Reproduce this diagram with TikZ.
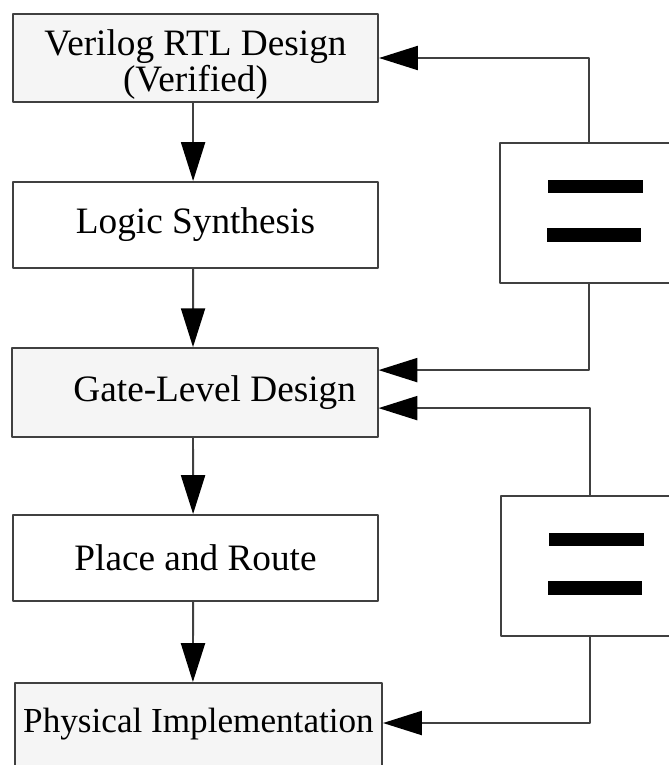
\documentclass[tikz,border=0pt]{standalone}
\usepackage{fontspec}
\setmainfont{Liberation Serif}
\usetikzlibrary{arrows.meta}

\begin{document}
\begin{tikzpicture}[x=0.025cm, y=-0.025cm, line join=round,
	font=\fontsize{26.5}{23}\selectfont,
	>={Triangle[length=0.97cm,width=0.6cm,color=black]},
	flowbox/.style={draw=black!75, line width=1.4pt, minimum width=9.125cm, inner sep=0pt, align=center},
	greybox/.style={flowbox, fill=black!4},
	eqbox/.style={draw=black!75, line width=1.4pt, fill=white, minimum width=4.45cm, minimum height=3.48cm},
	wire/.style={draw=black!75, line width=1.4pt, ->}]
	\useasboundingbox (0,0) rectangle (669,765);
	\clip (0,0) rectangle (669,765);
	% design flow
	\node[greybox, anchor=north, text height=1.925cm, text depth=0.275cm] (rtl) at (195.5,13) {Verilog RTL Design\\(Verified)};
	\node[flowbox, minimum height=2.15cm] (synth) at (195.5,225) {Logic Synthesis};
	\node[greybox, minimum height=2.22cm] (gate) at (195,392.5) {\hspace*{28pt}Gate-Level Design};
	\node[flowbox, minimum height=2.15cm] (place) at (195.5,558) {Place and Route};
	\node[greybox, minimum width=9.175cm, anchor=north, text height=1.225cm, text depth=2cm, font=\fontsize{25}{23}\selectfont] (phys) at (198.5,682) {Physical Implementation};
	\draw[wire] ([xshift=-0.06cm]rtl.south) -- ([xshift=-0.06cm]synth.north);
	\draw[wire] ([xshift=-0.06cm]synth.south) -- ([xshift=-0.05cm]gate.north);
	\draw[wire] ([xshift=-0.05cm]gate.south) -- ([xshift=-0.06cm]place.north);
	\draw[wire] ([xshift=-0.06cm]place.south) -- ([xshift=-0.14cm]phys.north);
	% equivalence checks
	\node[eqbox] (eqa) at (589,213) {};
	\node[eqbox] (eqb) at (590,566) {};
	\foreach \e in {eqa,eqb}{
		\fill ([shift={(-41,-33)}]\e.center) rectangle ++(95,13);
		\fill ([shift={(-42,15)}]\e.center) rectangle ++(94,14);
	}
	\draw[wire] (eqa.north) |- (rtl.east);
	\draw[wire] (eqa.south) |- ([yshift=0.56cm]gate.east);
	\draw[wire] (eqb.north) |- ([yshift=-0.39cm]gate.east);
	\draw[wire] (eqb.south) |- ([yshift=-1.025cm]phys.north east);
\end{tikzpicture}
\end{document}
